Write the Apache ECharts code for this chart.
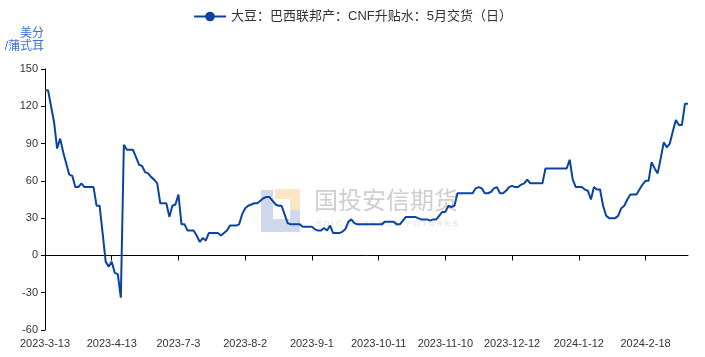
<!DOCTYPE html>
<html>
<head>
<meta charset="utf-8">
<script src="https://cdn.jsdelivr.net/npm/echarts@6/dist/echarts.min.js"></script>
<style>html,body{margin:0;padding:0;background:#fff}#c{width:705px;height:357px}</style>
</head>
<body>
<div id="c"></div>
<script>
const seriesName = '大豆：巴西联邦产：CNF升贴水：5月交货（日）';
const tickLabels = ['2023-3-13','2023-4-13','2023-7-3','2023-8-2','2023-9-1','2023-10-11','2023-11-10','2023-12-12','2024-1-12','2024-2-18'];
const labelStep = 22;
const values = [
133,133,120,107,86,94,83,74,65,64,
55,55,58,55,55,55,55,40,40,18,
-5,-9,-5,-14,-15,-34,89,85,85,85,
79,73,72,67,66,63,61,58,42,42,
42,31,40,41,49,25,25,20,20,20,
16,11,14,12,18,18,18,18,16,18,
20,24,24,24,25,33,38,40,41,42,
42,44,46,47,47,44,41,40,40,33,
26,25,25,25,25,23,23,23,23,21,
20,20,22,20,24,18,18,18,19,21,
27,29,26,25,25,25,25,25,25,25,
25,25,27,27,27,27,25,25,28,31,
31,31,31,30,29,29,29,28,29,29,
32,35,35,40,39,40,50,50,50,50,
50,50,54,55,54,50,50,51,54,55,
50,50,52,55,56,55,55,57,58,61,
58,58,58,58,58,70,70,70,70,70,
70,70,70,77,61,55,55,55,53,52,
45,55,53,53,40,32,30,30,30,32,
38,40,45,49,49,49,53,57,60,60,
75,70,66,78,91,87,90,100,109,105,
105,122,122
];
const yTicks = {min: -60, max: 150, interval: 30};
const yName = '美分\n/蒲式耳';

const categories = values.map((v, i) => (i % labelStep === 0 && tickLabels[i / labelStep]) ? tickLabels[i / labelStep] : String(i));

const font = '"Liberation Sans", "Noto Sans CJK SC", sans-serif';
const chart = echarts.init(document.getElementById('c'), null, {renderer: 'canvas'});
chart.setOption({
  animation: false,
  textStyle: {fontFamily: font},
  legend: {
    top: 5, left: 'center',
    itemWidth: 32, itemHeight: 12, itemGap: 10,
    textStyle: {fontSize: 13, color: '#333', fontFamily: font},
    data: [seriesName]
  },
  grid: {left: 45, right: 17, top: 69, bottom: 27, containLabel: false},
  xAxis: [{
    type: 'category', data: categories, boundaryGap: false,
    axisLine: {onZero: true, lineStyle: {color: '#000', width: 1}},
    axisTick: {show: true, length: 5, interval: labelStep - 1, lineStyle: {color: '#000'}},
    axisLabel: {show: false, interval: labelStep - 1},
    splitLine: {show: false}
  }, {
    type: 'category', data: categories, boundaryGap: false, position: 'bottom',
    axisLine: {show: false, onZero: false},
    axisTick: {show: false},
    axisLabel: {show: true, interval: labelStep - 1, fontSize: 11, color: '#333', margin: 8, fontFamily: font},
    splitLine: {show: false}
  }],
  yAxis: {
    type: 'value', min: yTicks.min, max: yTicks.max, interval: yTicks.interval,
    name: yName, nameLocation: 'end', nameGap: 16,
    nameTextStyle: {color: '#3a6fd8', fontSize: 12, align: 'right', verticalAlign: 'bottom', lineHeight: 13, padding: [0, 1, 0, 0], fontFamily: font},
    axisLine: {show: true, lineStyle: {color: '#000'}},
    axisTick: {show: true, length: 4, lineStyle: {color: '#000'}},
    axisLabel: {fontSize: 11, color: '#333', margin: 7, fontFamily: font},
    splitLine: {show: false}
  },
  graphic: [
    {type: 'polygon', z: 0, silent: true, shape: {points: [[275,189],[300,189],[300,217],[290,217],[290,199],[275,199]]}, style: {fill: '#fde6c4'}},
    {type: 'polygon', z: 0, silent: true, shape: {points: [[261,190],[273,190],[273,219],[290,219],[290,210],[300,210],[300,232],[261,232]]}, style: {fill: '#cfd8ec'}},
    {type: 'text', z: 0, silent: true, left: 314, top: 188, style: {text: '国投安信期货', fontSize: 24, fill: '#cfcfcf', fontFamily: '"Noto Sans CJK SC", sans-serif'}},
    {type: 'text', z: 0, silent: true, left: 316, top: 220, style: {text: 'S D I C   E S S E N C E   F U T U R E S', fontSize: 8, fill: '#dcdcdc', fontFamily: font}}
  ],
  series: [{
    name: seriesName, type: 'line', data: values, xAxisIndex: 0,
    symbol: 'circle', symbolSize: 8, showSymbol: false,
    lineStyle: {color: '#0a44a0', width: 2},
    itemStyle: {color: '#0a44a0'},
    z: 5
  }]
});
</script>
</body>
</html>
